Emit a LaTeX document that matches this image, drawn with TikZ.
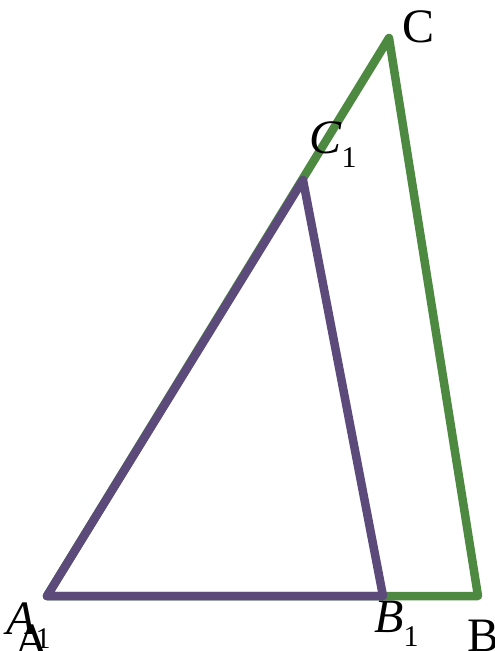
\documentclass[tikz,border=0pt]{standalone}
\usepackage{fontspec}
\setmainfont{Liberation Serif}
\usepackage{xcolor}
\definecolor{triGreen}{RGB}{78,137,66}
\definecolor{triPurple}{RGB}{92,74,122}
\newcommand{\subone}{\raisebox{-0.3em}{\fontsize{30}{30}\selectfont 1}}

\begin{document}
\begin{tikzpicture}[x=1pt, y=-1pt,
  side/.style={line width=8.5pt, line join=round, line cap=round},
  lbl/.style={anchor=base west, inner sep=0pt, font=\fontsize{48}{50}\selectfont}
]
  \useasboundingbox (0,0) rectangle (495,651);

  \coordinate (A) at (47,596);
  \coordinate (B) at (478,596);
  \coordinate (C) at (389,38);
  \coordinate (B1) at (383,596);
  \coordinate (C1) at (303,180);

  \draw[side, triGreen] (A) -- (B) -- (C) -- cycle;
  \draw[side, triPurple] (A) -- (B1) -- (C1) -- cycle;

  \node[lbl] (labA) at (14,656) {A};
  \node[lbl] (labA1) at (6,634) {\textit{A}\subone};
  \node[lbl] (labB) at (467,651) {B};
  \node[lbl] (labB1) at (374,632) {\textit{B}\subone};
  \node[lbl] (labC) at (402,42) {C};
  \node[lbl] (labC1) at (309,153) {\textit{C}\subone};
\end{tikzpicture}
\end{document}
